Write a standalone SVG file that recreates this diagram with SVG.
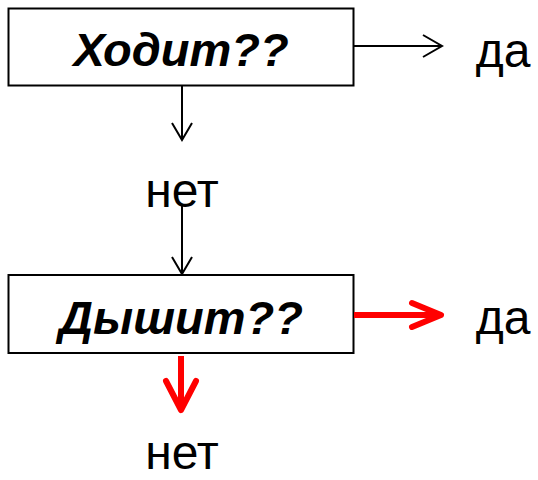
<svg xmlns="http://www.w3.org/2000/svg" width="538" height="480" viewBox="0 0 538 480">
<style>
.box{fill:#fff;stroke:#000;stroke-width:2}
.q{font-family:"Liberation Sans",Arial,sans-serif;font-size:47px;font-weight:bold;font-style:italic;text-anchor:middle}
.lbl{font-family:"Liberation Sans",Arial,sans-serif;font-size:48px;text-anchor:middle}
.blk{fill:none;stroke:#000;stroke-width:2}
.red{fill:none;stroke:#f00;stroke-width:6;stroke-linecap:round;stroke-linejoin:round}
</style>
<rect width="538" height="480" fill="#fff"/>
<g id="node-hodit">
<rect class="box" x="8.5" y="8.5" width="345" height="77"/>
<text class="q" x="181" y="66">Ходит??</text>
</g>
<g id="node-dyshit">
<rect class="box" x="8.5" y="275" width="345" height="78"/>
<text class="q" x="181" y="334">Дышит??</text>
</g>
<g id="label-da1"><text class="lbl" x="503" y="67">да</text></g>
<g id="label-net1"><text class="lbl" x="182" y="207">нет</text></g>
<g id="label-da2"><text class="lbl" x="503" y="334">да</text></g>
<g id="label-net2"><text class="lbl" x="182" y="469">нет</text></g>
<g id="connectors">
<path class="blk" d="M354 46 H441 M423 35 L442 46 L423 57"/>
<path class="blk" d="M182 86 V139 M172 123 L182 140 L192 123"/>
<path class="blk" d="M182 205 V274 M172 257 L182 274 L192 257"/>
<path class="red" d="M354 315 H440" style="stroke-linecap:butt"/>
<path class="red" d="M412 303 L441 315 L412 327"/>
<path class="red" d="M181 356 V408" style="stroke-linecap:butt"/>
<path class="red" d="M166 381 L181 410 L196 381"/>
</g>
</svg>
